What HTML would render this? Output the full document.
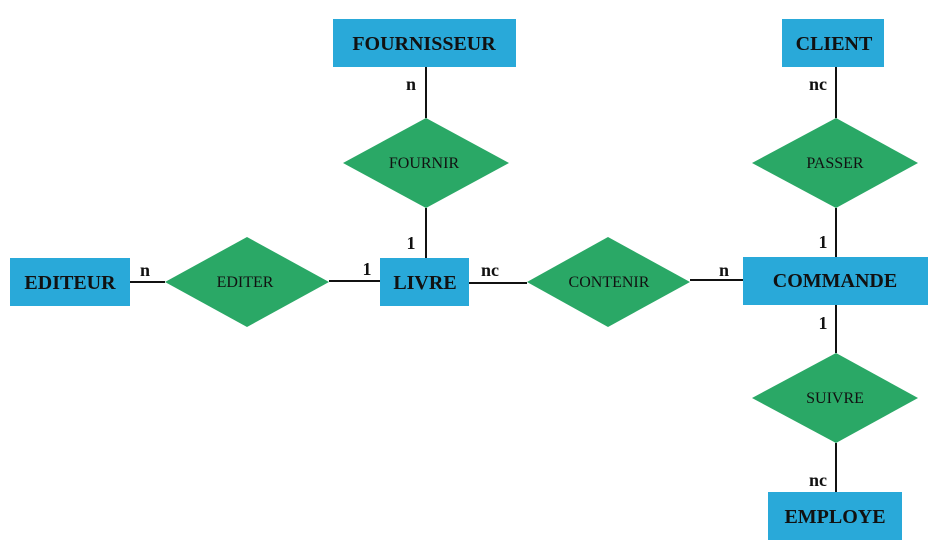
<!DOCTYPE html>
<html><head><meta charset="utf-8"><style>body{margin:0;background:#fff}svg{display:block}</style></head><body>
<svg width="951" height="553" xmlns="http://www.w3.org/2000/svg" font-family="Liberation Serif, serif">
<g stroke="#111" stroke-width="2">
<line x1="426" y1="67" x2="426" y2="118"/>
<line x1="426" y1="208" x2="426" y2="258"/>
<line x1="130" y1="282" x2="165" y2="282"/>
<line x1="329" y1="281" x2="380" y2="281"/>
<line x1="469" y1="283" x2="527" y2="283"/>
<line x1="690" y1="280" x2="743" y2="280"/>
<line x1="836" y1="67" x2="836" y2="118"/>
<line x1="836" y1="208" x2="836" y2="257"/>
<line x1="836" y1="305" x2="836" y2="353"/>
<line x1="836" y1="443" x2="836" y2="492"/>
</g>
<g fill="#29a9d9">
<rect x="333" y="19" width="183" height="48"/>
<rect x="10" y="258" width="120" height="48"/>
<rect x="380" y="258" width="89" height="48"/>
<rect x="743" y="257" width="185" height="48"/>
<rect x="782" y="19" width="102" height="48"/>
<rect x="768" y="492" width="134" height="48"/>
</g>
<g fill="#2aa866">
<polygon points="343,163 426,118 509,163 426,208"/>
<polygon points="165,282 247,237 329,282 247,327"/>
<polygon points="527,282 608,237 690,282 608,327"/>
<polygon points="752,163 836,118 918,163 836,208"/>
<polygon points="752,398 836,353 918,398 836,443"/>
</g>
<g font-weight="bold" font-size="20" text-anchor="middle" fill="#111">
<text x="424" y="50">FOURNISSEUR</text>
<text x="70" y="289">EDITEUR</text>
<text x="425" y="289">LIVRE</text>
<text x="835" y="287">COMMANDE</text>
<text x="834" y="50">CLIENT</text>
<text x="835" y="523">EMPLOYE</text>
</g>
<g font-size="16" text-anchor="middle" fill="#111">
<text x="424" y="168">FOURNIR</text>
<text x="245" y="287">EDITER</text>
<text x="609" y="287">CONTENIR</text>
<text x="835" y="168">PASSER</text>
<text x="835" y="403">SUIVRE</text>
</g>
<g font-weight="bold" font-size="18" text-anchor="middle" fill="#111">
<text x="411" y="90">n</text>
<text x="411" y="249">1</text>
<text x="145" y="276">n</text>
<text x="367" y="275">1</text>
<text x="490" y="276">nc</text>
<text x="724" y="276">n</text>
<text x="818" y="90">nc</text>
<text x="823" y="248">1</text>
<text x="823" y="329">1</text>
<text x="818" y="486">nc</text>
</g>
</svg>
</body></html>
